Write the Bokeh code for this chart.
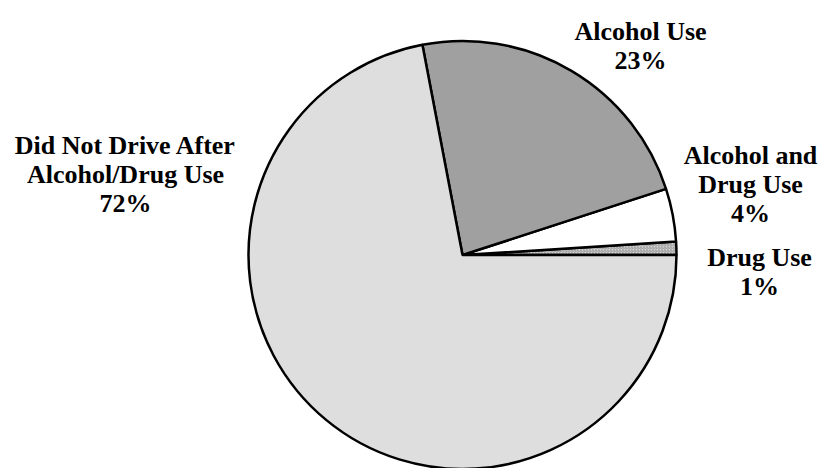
import math
from bokeh.plotting import figure
from bokeh.models import Range1d, ColumnDataSource
from bokeh.core.properties import value
from bokeh.embed import file_html
from bokeh.resources import INLINE

# Driving after substance use, share of respondents (%)
categories = ["Drug Use", "Alcohol and\nDrug Use", "Alcohol Use",
              "Did Not Drive After\nAlcohol/Drug Use"]
percents = [1, 4, 23, 72]
fills = ["#D4D4D4", "#FFFFFF", "#A0A0A0", "#DEDEDE"]
hatches = ["/", " ", " ", " "]

W, H = 821, 468
CX, CY, R = 462, 254.5, 214          # pie centre and radius (pixels, y down)
LINE_GAP = 29                         # label line spacing (pixels)
# label anchors: centre x, first baseline y (pixels, y down)
label_anchor = [(759, 257), (750, 155), (640, 31), (125, 145)]

p = figure(width=W, height=H, output_backend="svg", toolbar_location=None,
           x_range=Range1d(0, W), y_range=Range1d(0, H),
           min_border=0, outline_line_color=None)
p.axis.visible = False
p.grid.visible = False
p.background_fill_color = "white"
p.border_fill_color = "white"

# cumulative angles, counter-clockwise from 3 o'clock
total = sum(percents)
starts, ends = [], []
acc = 0.0
for v in percents:
    starts.append(2 * math.pi * acc / total)
    acc += v
    ends.append(2 * math.pi * acc / total)

src = ColumnDataSource(dict(start=starts, end=ends, fill=fills, hatch=hatches,
                            x=[CX] * len(percents), y=[H - CY] * len(percents)))
p.wedge(x="x", y="y", radius=R, start_angle="start", end_angle="end",
        direction="anticlock", fill_color="fill", hatch_pattern="hatch",
        hatch_color="#8C8C8C", hatch_scale=3, hatch_weight=0.8,
        line_color="black", line_width=2.5, source=src)

# labels, one glyph row per text line
tx, ty, tt = [], [], []
for name, v, (ax, ay) in zip(categories, percents, label_anchor):
    lines = name.split("\n") + [f"{v}%"]
    for i, line in enumerate(lines):
        tx.append(ax)
        ty.append(H - (ay + i * LINE_GAP))
        tt.append(line)

p.text(x=tx, y=ty, text=tt, text_font=value("Liberation Serif"),
       text_font_style="bold", text_font_size="26px", text_color="black",
       text_align="center", text_baseline="alphabetic")

open("out.html", "w").write(file_html(p, INLINE))
